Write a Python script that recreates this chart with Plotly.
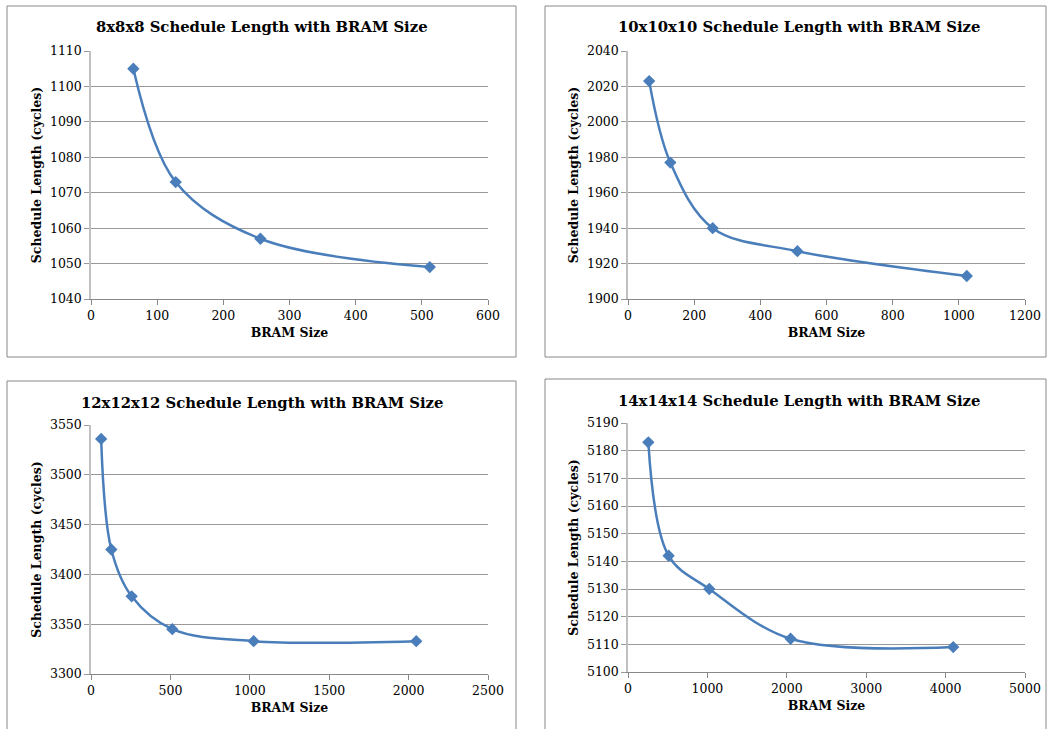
import plotly.graph_objects as go

W, H = 1047, 729

# data
titles = [
    "8x8x8 Schedule Length with BRAM Size",
    "10x10x10 Schedule Length with BRAM Size",
    "12x12x12 Schedule Length with BRAM Size",
    "14x14x14 Schedule Length with BRAM Size",
]
bram_8 = [64, 128, 256, 512]
sched_8 = [1105, 1073, 1057, 1049]
bram_10 = [64, 128, 256, 512, 1024]
sched_10 = [2023, 1977, 1940, 1927, 1913]
bram_12 = [64, 128, 256, 512, 1024, 2048]
sched_12 = [3536, 3425, 3378, 3345, 3333, 3333]
bram_14 = [256, 512, 1024, 2048, 4096]
sched_14 = [5183, 5142, 5130, 5112, 5109]

xs = [bram_8, bram_10, bram_12, bram_14]
ys = [sched_8, sched_10, sched_12, sched_14]

x_ranges = [(0, 600, 100), (0, 1200, 200), (0, 2500, 500), (0, 5000, 1000)]
y_ranges = [(1040, 1110, 10), (1900, 2040, 20), (3300, 3550, 50), (5100, 5190, 10)]

# pixel geometry of each panel: plot area (left, right, top, bottom), box, title pos
plot_px = [(91, 488, 51, 299), (628, 1025, 51, 299), (91, 488, 425, 674), (628, 1025, 423, 672)]
box_px = [(7, 516, 6, 357), (545, 1046, 6, 357), (7, 516, 381, 740), (545, 1046, 379, 740)]
title_px = [(262, 27), (799, 27), (262, 402), (799, 400)]

BLUE = "#4A7EBB"
GRID = "#999999"
SERIF = "DejaVu Serif"

fig = go.Figure()
layout = dict(
    width=W, height=H,
    margin=dict(l=0, r=0, t=0, b=0),
    paper_bgcolor="white",
    plot_bgcolor="white",
    showlegend=False,
    font=dict(family=SERIF, color="black", size=12),
    shapes=[],
    annotations=[],
)

for i in range(4):
    n = "" if i == 0 else str(i + 1)
    fig.add_trace(go.Scatter(
        x=xs[i], y=ys[i],
        mode="lines+markers",
        line=dict(color=BLUE, width=2.5, shape="spline", smoothing=1.0),
        marker=dict(symbol="diamond", size=9.5, color=BLUE),
        xaxis="x" + n, yaxis="y" + n,
    ))
    l, r, t, b = plot_px[i]
    x0, x1, dx = x_ranges[i]
    y0, y1, dy = y_ranges[i]
    layout["xaxis" + n] = dict(
        domain=[l / W, r / W], anchor="y" + n, automargin=False,
        range=[x0, x1], dtick=dx, tick0=0,
        showgrid=False, zeroline=False,
        showline=True, linecolor="#888888", linewidth=1,
        ticks="outside", ticklen=5, tickcolor="#888888",
        tickfont=dict(family=SERIF, size=12.5),
        title=dict(text="<b>BRAM Size</b>", font=dict(family=SERIF, size=12.5), standoff=6),
    )
    layout["yaxis" + n] = dict(
        domain=[1 - b / H, 1 - t / H], anchor="x" + n, automargin=False,
        range=[y0, y1], dtick=dy, tick0=y0,
        showgrid=True, gridcolor=GRID, gridwidth=1, zeroline=False,
        showline=True, linecolor="#C0C0C0", linewidth=1.5,
        ticks="outside", ticklen=5, tickcolor=GRID,
        tickfont=dict(family=SERIF, size=12.5),
        title=dict(text="<b>Schedule Length (cycles)</b>", font=dict(family=SERIF, size=12.5), standoff=6),
    )
    bx0, bx1, by0, by1 = box_px[i]
    layout["shapes"].append(dict(
        type="rect", xref="paper", yref="paper",
        x0=bx0 / W, x1=bx1 / W, y0=1 - by1 / H, y1=1 - by0 / H,
        line=dict(color="#888888", width=1), layer="below",
    ))
    tx, ty = title_px[i]
    layout["annotations"].append(dict(
        text="<b>" + titles[i] + "</b>", xref="paper", yref="paper",
        x=tx / W, y=1 - ty / H, xanchor="center", yanchor="middle",
        showarrow=False, font=dict(family=SERIF, size=14.8),
    ))

fig.update_layout(**layout)
fig.write_html(
    "out.html",
    config={"displayModeBar": False},
    post_script="document.body.style.margin='0';document.body.style.overflow='hidden';",
)
